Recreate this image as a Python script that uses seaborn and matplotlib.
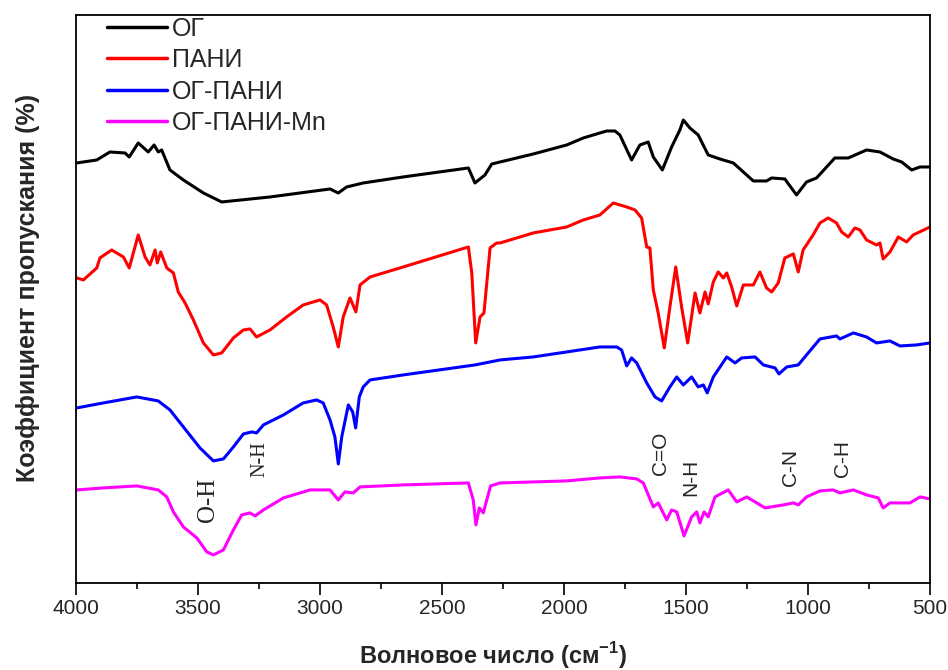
import numpy as np
import pandas as pd
import matplotlib
matplotlib.use("Agg")
import matplotlib.pyplot as plt
import seaborn as sns
from matplotlib.ticker import MultipleLocator

# FTIR spectra (wavenumber, transmittance in a.u.)
og_wn = [3998, 3915, 3861, 3799, 3782, 3745, 3704, 3680, 3663, 3649, 3615, 3560, 3478, 3403, 3205,
         2959, 2925, 2891, 2823, 2660, 2392, 2365, 2324, 2296, 2262, 2126, 1989, 1921, 1853, 1825,
         1791, 1771, 1723, 1689, 1655, 1634, 1597, 1559, 1525, 1511, 1484, 1450, 1409, 1361, 1306,
         1224, 1170, 1149, 1095, 1047, 1006, 965, 890, 835, 760, 705, 651, 616, 575, 541, 500]
og_t = [420, 423, 431, 430, 426, 440, 431, 438, 431, 433, 413, 403, 390, 381, 386,
        394, 390, 396, 400, 406, 415, 400, 408, 419, 421, 429, 438, 445, 450, 452,
        452, 448, 423, 438, 441, 426, 413, 436, 453, 463, 455, 448, 428, 424, 420,
        402, 402, 405, 404, 388, 401, 405, 425, 425, 433, 431, 424, 421, 413, 416, 416]

pani_wn = [3997, 3970, 3915, 3902, 3854, 3806, 3782, 3745, 3717, 3697, 3676, 3667, 3653, 3628, 3601,
           3581, 3553, 3519, 3478, 3437, 3403, 3355, 3314, 3287, 3260, 3205, 3137, 3069, 3000, 2973,
           2946, 2925, 2905, 2877, 2853, 2836, 2795, 2659, 2392, 2378, 2362, 2344, 2328, 2303, 2276,
           2262, 2126, 1989, 1921, 1853, 1798, 1743, 1709, 1682, 1661, 1648, 1634, 1614, 1589, 1566,
           1542, 1518, 1493, 1463, 1443, 1422, 1409, 1388, 1368, 1347, 1333, 1313, 1292, 1265, 1224,
           1197, 1170, 1149, 1122, 1095, 1060, 1040, 1020, 979, 951, 917, 883, 862, 835, 808,
           787, 760, 719, 705, 692, 664, 630, 596, 569, 500]
pani_t = [305, 303, 315, 325, 333, 326, 315, 348, 326, 318, 333, 320, 331, 315, 310,
          291, 280, 263, 240, 228, 230, 245, 253, 254, 246, 253, 266, 278, 283, 278,
          256, 236, 266, 285, 271, 298, 306, 316, 336, 310, 240, 266, 270, 335, 340,
          340, 350, 356, 363, 368, 380, 376, 373, 365, 336, 335, 293, 270, 235, 276,
          316, 276, 240, 290, 270, 291, 279, 301, 311, 305, 310, 296, 277, 298, 298,
          311, 295, 291, 300, 325, 329, 311, 333, 348, 360, 365, 360, 351, 346, 355,
          353, 343, 338, 340, 324, 331, 346, 341, 348, 356]

gp_wn = [3997, 3888, 3751, 3663, 3615, 3560, 3492, 3437, 3396, 3355, 3314, 3280, 3260, 3232, 3150,
         3069, 3014, 2987, 2959, 2939, 2925, 2911, 2884, 2866, 2854, 2839, 2823, 2795, 2659, 2365,
         2262, 2126, 1989, 1853, 1784, 1764, 1743, 1723, 1702, 1661, 1627, 1600, 1566, 1538, 1511,
         1477, 1450, 1429, 1413, 1388, 1333, 1299, 1272, 1217, 1183, 1135, 1119, 1087, 1040, 1006,
         951, 883, 869, 814, 760, 719, 664, 623, 555, 500]
gp_t = [175, 180, 186, 182, 173, 156, 135, 122, 124, 136, 149, 151, 150, 158, 168,
        180, 183, 180, 163, 146, 119, 146, 178, 171, 155, 186, 196, 203, 208, 218,
        223, 226, 231, 236, 236, 233, 217, 225, 220, 200, 186, 182, 196, 206, 198,
        206, 196, 198, 190, 206, 226, 220, 225, 226, 218, 215, 209, 216, 218, 228,
        244, 247, 244, 250, 246, 240, 242, 237, 238, 240]

mn_wn = [3997, 3888, 3751, 3663, 3628, 3601, 3560, 3505, 3464, 3437, 3396, 3355, 3321, 3287, 3266,
         3232, 3150, 3041, 2959, 2925, 2898, 2864, 2836, 2659, 2392, 2372, 2361, 2347, 2331, 2301,
         2262, 1989, 1853, 1771, 1702, 1675, 1634, 1614, 1579, 1559, 1538, 1508, 1477, 1456, 1443,
         1426, 1409, 1381, 1327, 1292, 1251, 1210, 1176, 1101, 1060, 1040, 1006, 951, 897, 869,
         814, 760, 712, 692, 664, 582, 541, 500]
mn_t = [93, 95, 97, 93, 86, 71, 56, 45, 31, 28, 33, 53, 68, 70, 67,
        73, 85, 93, 93, 83, 91, 90, 96, 98, 100, 83, 58, 75, 70, 97,
        100, 102, 105, 106, 104, 100, 76, 80, 63, 73, 71, 47, 66, 71, 60,
        71, 66, 86, 93, 81, 86, 80, 75, 78, 80, 78, 86, 92, 93, 90,
        93, 88, 85, 75, 80, 80, 86, 84]

samples = ["ОГ", "ПАНИ", "ОГ-ПАНИ", "ОГ-ПАНИ-Mn"]
colors = ["black", "red", "blue", "magenta"]

df = pd.concat([
    pd.DataFrame({"wn": w, "t": t, "sample": s})
    for w, t, s in zip([og_wn, pani_wn, gp_wn, mn_wn], [og_t, pani_t, gp_t, mn_t], samples)
], ignore_index=True)

sns.set_style("white")
plt.rcParams["font.family"] = ["Liberation Sans", "DejaVu Sans"]
plt.rcParams["mathtext.fontset"] = "custom"
plt.rcParams["mathtext.rm"] = "Liberation Sans"
plt.rcParams["mathtext.bf"] = "Liberation Sans:bold"

fig, ax = plt.subplots(figsize=(9.48, 6.7), dpi=100)
fig.subplots_adjust(left=0.0802, right=0.981, bottom=0.13, top=0.9776)

sns.lineplot(data=df, x="wn", y="t", hue="sample", palette=dict(zip(samples, colors)),
             sort=False, estimator=None, lw=2.2, ax=ax)

ax.set_xlim(4000, 500)
ax.set_ylim(0, 568)
ax.set_yticks([])
ax.xaxis.set_major_locator(MultipleLocator(500))
ax.xaxis.set_minor_locator(MultipleLocator(250))
ax.tick_params(axis="x", which="major", bottom=True, direction="out", length=8.5, width=1.2,
               labelsize=15, pad=3, color="black")
ax.tick_params(axis="x", which="minor", bottom=True, direction="out", length=4.5, width=1.2,
               color="black")
for sp in ax.spines.values():
    sp.set_color("black")
    sp.set_linewidth(1.3)

ax.set_xlabel("Волновое число (см$^{\\mathbf{-1}}$)", fontsize=17, fontweight="bold", labelpad=16)
ax.xaxis.label.set_x(0.489)
ax.set_ylabel("Коэффициент пропускания (%)", fontsize=18, fontweight="bold", labelpad=26)
ax.yaxis.label.set_y(0.519)

handles, labels = ax.get_legend_handles_labels()
leg = ax.legend(handles, labels, loc="upper left", bbox_to_anchor=(0.0363, 0.997), frameon=False,
                fontsize=18, handlelength=2.4, handletextpad=0.2, labelspacing=0.3,
                borderaxespad=0, borderpad=0)
for h in leg.get_lines():
    h.set_linewidth(2.5)

# band assignments
ax.text(3461, 83, "O-H", rotation=90, ha="center", va="center", family="Liberation Serif", fontsize=18)
ax.text(3246, 124, "N-H", rotation=90, ha="center", va="center", family="Liberation Serif", fontsize=14.5)
for wn, t, lab in [(1604, 130, "C=O"), (1480, 106, "N-H"), (1072, 115, "C-N"), (859, 124, "C-H")]:
    ax.text(wn, t, lab, rotation=90, ha="center", va="center", fontsize=15)

fig.savefig("out.png", dpi=100)
